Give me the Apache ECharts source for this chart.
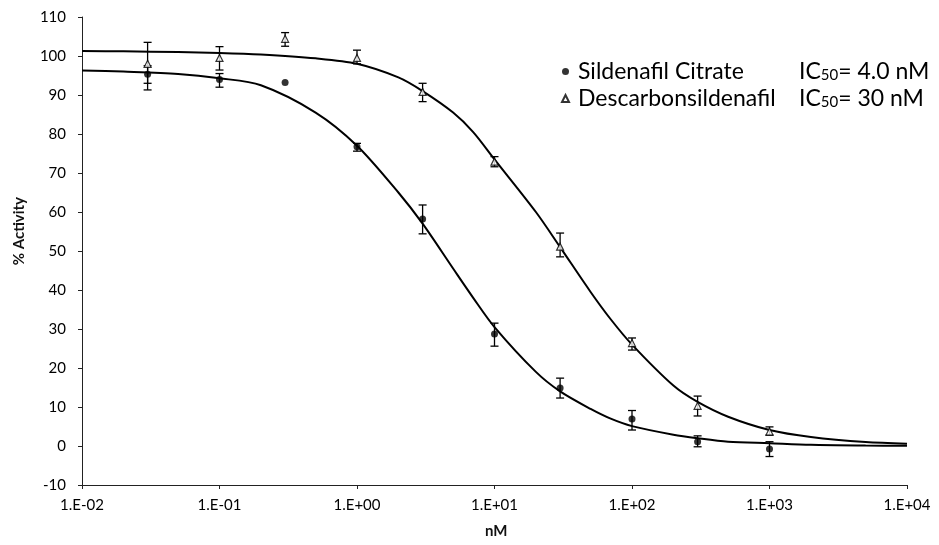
<!DOCTYPE html>
<html><head><meta charset="utf-8">
<script src="https://cdn.jsdelivr.net/npm/echarts@6/dist/echarts.min.js"></script>
<style>html,body{margin:0;padding:0;background:#fff}#c{width:939px;height:545px}</style>
</head><body><div id="c"></div>
<script>
// concentrations (nM)
const concentrations = [0.03, 0.1, 0.3, 1, 3, 10, 30, 100, 300, 1000];
// Sildenafil Citrate (% activity, mean and error-bar ends)
const sildenafil     = [95.3, 94.0, 93.2, 76.7, 58.2, 28.7, 14.9, 6.9, 1.1, -0.8];
const sildenafilLow  = [91.3, 92.0, 93.2, 75.6, 54.4, 25.6, 12.3, 4.1, -0.2, -2.7];
const sildenafilHigh = [97.5, 95.5, 93.2, 77.6, 61.8, 31.5, 17.4, 9.1, 2.6, 1.1];
// Descarbonsildenafil
const descarbon     = [98.0, 99.5, 104.4, 99.5, 90.8, 72.9, 51.1, 26.4, 10.3, 3.7];
const descarbonLow  = [93.0, 96.4, 102.5, 98.0, 88.3, 71.6, 48.5, 24.6, 7.7, 2.8];
const descarbonHigh = [103.5, 102.4, 106.0, 101.5, 93.0, 74.2, 54.6, 27.7, 12.8, 4.9];
// fitted curves
const curveX = [0.01, 0.02, 0.05, 0.1, 0.2, 0.5, 1, 2, 3, 5, 7, 10, 20, 30, 50, 70, 100, 200, 300, 500, 1000, 2000, 5000, 10000];
const sildenafilFit = [96.3, 96.0, 95.4, 94.3, 92.5, 85.5, 77.0, 65.0, 57.0, 45.5, 38.0, 30.5, 19.0, 14.0, 9.5, 7.0, 5.1, 2.9, 2.0, 1.1, 0.7, 0.3, 0.12, 0.06];
const descarbonFit  = [101.3, 101.2, 101.0, 100.8, 100.4, 99.4, 98.0, 94.5, 91.0, 85.5, 80.5, 73.5, 60.0, 51.0, 39.5, 32.5, 26.0, 15.5, 11.3, 7.5, 4.1, 2.3, 1.0, 0.6];
const seriesNames = ['Sildenafil Citrate', 'Descarbonsildenafil'];
const ic50Labels = ['4.0 nM', '30 nM'];
const yTicks = [-10, 110, 10];
const xRange = [0.01, 10000];

const FONT = 'Lato, "Open Sans", sans-serif';
const chart = echarts.init(document.getElementById('c'));

function errorBars(lo, hi) {
  return {
    type: 'custom', silent: true, z: 3,
    data: concentrations.map((c, i) => [c, lo[i], hi[i]]),
    encode: { x: 0, y: [1, 2] },
    renderItem: function (params, api) {
      const x = api.value(0), a = api.value(1), b = api.value(2);
      if (a === b) return null;
      const p1 = api.coord([x, a]), p2 = api.coord([x, b]);
      const w = 4;
      const st = { stroke: '#000', lineWidth: 1.3 };
      return { type: 'group', children: [
        { type: 'line', shape: { x1: p1[0], y1: p1[1], x2: p2[0], y2: p2[1] }, style: st },
        { type: 'line', shape: { x1: p1[0] - w, y1: p1[1], x2: p1[0] + w, y2: p1[1] }, style: st },
        { type: 'line', shape: { x1: p2[0] - w, y1: p2[1], x2: p2[0] + w, y2: p2[1] }, style: st }
      ]};
    }
  };
}
function expLabel(v) {
  const e = Math.round(Math.log10(v));
  const s = Math.abs(e) < 10 ? '0' + Math.abs(e) : '' + Math.abs(e);
  return '1.E' + (e < 0 ? '-' : '+') + s;
}

chart.setOption({
  animation: false,
  backgroundColor: '#fff',
  grid: { left: 82, right: 32, top: 17, bottom: 60 },
  xAxis: {
    type: 'log', logBase: 10, min: xRange[0], max: xRange[1],
    axisLine: { onZero: false, lineStyle: { color: '#222', width: 1 } },
    axisTick: { show: true, length: 4, lineStyle: { color: '#222' } },
    splitLine: { show: false },
    axisLabel: { formatter: expLabel, color: '#000', fontSize: 15, fontFamily: FONT, margin: 13 }
  },
  yAxis: {
    type: 'value', min: yTicks[0], max: yTicks[1], interval: yTicks[2],
    axisLine: { show: true, onZero: false, lineStyle: { color: '#222', width: 1 } },
    axisTick: { show: true, length: 4, lineStyle: { color: '#222' } },
    splitLine: { show: false },
    axisLabel: { color: '#000', fontSize: 15, fontFamily: FONT, margin: 16 }
  },
  legend: {
    orient: 'vertical', left: 556, top: 54, itemGap: 3, itemWidth: 7, itemHeight: 7,
    data: [{ name: seriesNames[0], icon: 'circle' }, { name: seriesNames[1], icon: 'triangle' }],
    formatter: function (name) {
      const i = seriesNames.indexOf(name);
      return '{n|' + name + '}{ic|IC}{sub|50}{ic|= ' + ic50Labels[i] + '}';
    },
    textStyle: {
      color: '#000', fontFamily: FONT, fontSize: 23, lineHeight: 23, padding: [0, 0, 0, 4],
      rich: {
        n: { width: 221, fontSize: 23, lineHeight: 23, fontFamily: FONT, color: '#000' },
        ic: { fontSize: 23, lineHeight: 23, fontFamily: FONT, color: '#000' },
        sub: { fontSize: 15, lineHeight: 23, fontFamily: FONT, color: '#000', verticalAlign: 'bottom', padding: [9, 0, 0, 0] }
      }
    }
  },
  graphic: [
    { type: 'text', left: 12, top: 197, rotation: Math.PI / 2,
      style: { text: '% Activity', font: 'bold 15px ' + FONT, fill: '#111' } },
    { type: 'text', left: 485, top: 524,
      style: { text: 'nM', font: 'bold 15px ' + FONT, fill: '#111' } }
  ],
  series: [
    { type: 'line', name: 'fit1', data: curveX.map((x, i) => [x, sildenafilFit[i]]), smooth: 0.3,
      showSymbol: false, lineStyle: { color: '#000', width: 2 }, z: 2, silent: true },
    { type: 'line', name: 'fit2', data: curveX.map((x, i) => [x, descarbonFit[i]]), smooth: 0.3,
      showSymbol: false, lineStyle: { color: '#000', width: 2 }, z: 2, silent: true },
    errorBars(sildenafilLow, sildenafilHigh),
    errorBars(descarbonLow, descarbonHigh),
    { type: 'scatter', name: seriesNames[0], symbol: 'circle', symbolSize: 7, z: 4,
      data: concentrations.map((c, i) => [c, sildenafil[i]]),
      itemStyle: { color: '#000' } },
    { type: 'scatter', name: seriesNames[1], symbol: 'triangle', symbolSize: 7, z: 4,
      data: concentrations.map((c, i) => [c, descarbon[i]]),
      itemStyle: { color: '#fff', borderColor: '#000', borderWidth: 1.2 } }
  ]
});
</script></body></html>
